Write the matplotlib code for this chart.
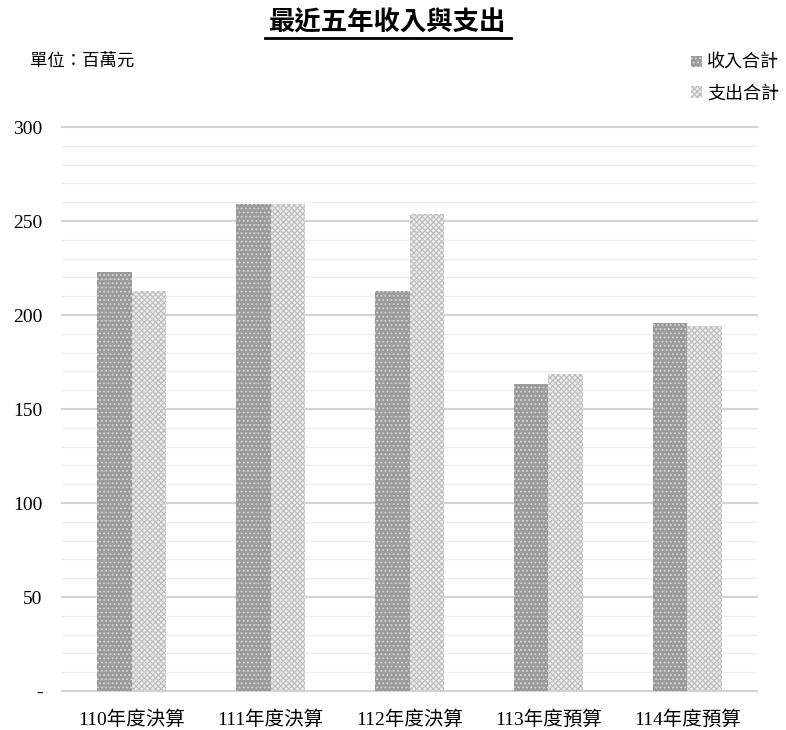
import matplotlib.pyplot as plt
import numpy as np
from matplotlib.lines import Line2D

plt.rcParams['font.family'] = ['Liberation Serif', 'Noto Sans CJK TC']
plt.rcParams['hatch.linewidth'] = 0.8

# данные (百萬元)
categories = ['110年度決算', '111年度決算', '112年度決算', '113年度預算', '114年度預算']
income = [223.0, 259.2, 212.6, 163.3, 195.7]
expense = [212.6, 258.8, 253.9, 168.8, 194.3]
yticks = [0, 50, 100, 150, 200, 250, 300]
ytick_labels = ['-', '50', '100', '150', '200', '250', '300']

fig = plt.figure(figsize=(7.86, 7.30), dpi=100)
ax = fig.add_axes([0.079, 0.0534, 0.884, 0.7726])

x = np.arange(len(categories))
w = 0.25
ax.bar(x - w / 2, income, w, color='#9a9a9a', edgecolor='#d8d8d8', hatch='....',
       linewidth=0, label='收入合計', zorder=3)
ax.bar(x + w / 2, expense, w, color='#ebebeb', edgecolor='#bdbdbd', hatch='xxxxxx',
       linewidth=0, label='支出合計', zorder=3)

ax.set_xlim(-0.5, len(categories) - 0.5)
ax.set_ylim(0, 300)
ax.set_yticks(yticks)
ax.set_yticklabels(ytick_labels, fontsize=14)
ax.set_yticks(np.arange(0, 301, 10), minor=True)
ax.set_xticks(x)
ax.set_xticklabels(categories, fontsize=14)
ax.tick_params(axis='both', length=0, pad=14)
ax.tick_params(axis='y', which='minor', length=0)
ax.grid(axis='y', which='major', color='#d4d4d4', linewidth=1.6, zorder=0)
ax.grid(axis='y', which='minor', color='#efefef', linewidth=1.0, zorder=0)
for s in ax.spines.values():
    s.set_visible(False)
for gl in ax.get_ygridlines():
    gl.set_clip_on(False)

# заголовок с подчёркиванием
fig.text(0.493, 0.968, '最近五年收入與支出', ha='center', va='center',
         fontsize=19, fontweight='bold')
fig.add_artist(Line2D([0.337, 0.650], [0.948, 0.948], color='black', linewidth=2))
fig.text(0.038, 0.916, '單位：百萬元', ha='left', va='center', fontsize=12.5)

leg = fig.legend(loc='upper right', bbox_to_anchor=(1.012, 0.947), frameon=False,
                 fontsize=13, handlelength=0.6, handleheight=0.6, handletextpad=0.3,
                 labelspacing=0.75)

fig.savefig('out.png', dpi=100)
